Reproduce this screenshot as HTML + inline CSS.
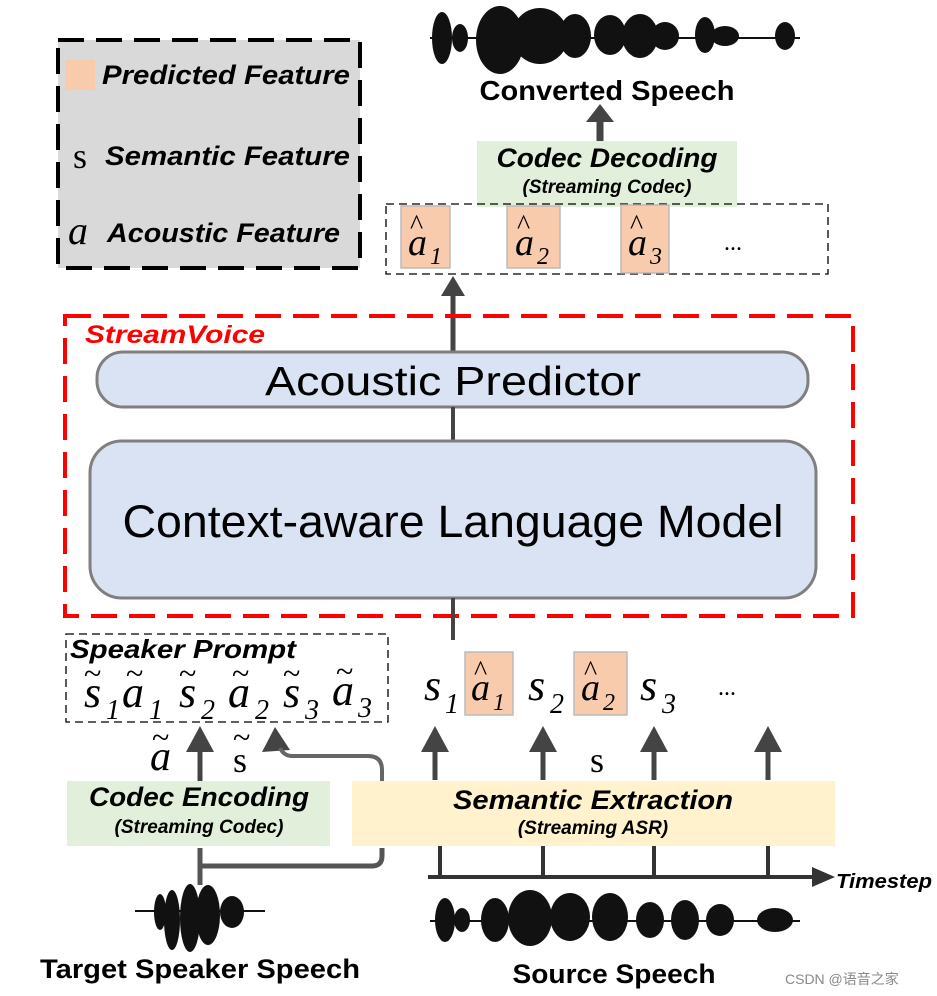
<!DOCTYPE html>
<html><head><meta charset="utf-8"><style>
body{margin:0;background:#fff}
svg{display:block}
.b{font-family:"Liberation Sans",sans-serif;font-weight:bold}
.bi{font-family:"Liberation Sans",sans-serif;font-weight:bold;font-style:italic}
.m{font-family:"Liberation Serif",serif;font-style:italic}
</style></head><body>
<svg width="937" height="996" viewBox="0 0 937 996" xmlns="http://www.w3.org/2000/svg">
<!-- legend -->
<rect x="58" y="40" width="302" height="228" fill="#d9d9d9" stroke="#000" stroke-width="4" stroke-dasharray="26,12"/>
<rect x="65" y="60" width="30" height="30" fill="#f8cbad"/>
<text x="102" y="84" class="bi" font-size="27" textLength="248" lengthAdjust="spacingAndGlyphs">Predicted Feature</text>
<text x="73" y="168" font-family="Liberation Serif,serif" font-size="36">s</text>
<text x="105" y="165" class="bi" font-size="27" textLength="245" lengthAdjust="spacingAndGlyphs">Semantic Feature</text>
<text x="68" y="244" class="m" font-size="40">a</text>
<text x="107" y="242" class="bi" font-size="27" textLength="233" lengthAdjust="spacingAndGlyphs">Acoustic Feature</text>
<!-- top waveform -->
<g fill="#111">
<rect x="430" y="37" width="370" height="2"/>
<ellipse cx="442" cy="38" rx="10" ry="26"/><ellipse cx="460" cy="38" rx="8" ry="14"/>
<ellipse cx="500" cy="40" rx="24" ry="34"/><ellipse cx="540" cy="36" rx="28" ry="28"/><ellipse cx="575" cy="36" rx="16" ry="22"/>
<ellipse cx="610" cy="35" rx="16" ry="20"/><ellipse cx="640" cy="36" rx="18" ry="22"/><ellipse cx="665" cy="36" rx="14" ry="14"/>
<ellipse cx="705" cy="35" rx="10" ry="18"/><ellipse cx="725" cy="36" rx="14" ry="10"/><ellipse cx="785" cy="36" rx="10" ry="14"/>
</g>
<text x="607" y="100" class="b" font-size="28" text-anchor="middle" textLength="255" lengthAdjust="spacingAndGlyphs">Converted Speech</text>
<line x1="600" y1="142" x2="600" y2="118" stroke="#444" stroke-width="7"/>
<path d="M586,122 L600,104 L614,122 z" fill="#444"/>
<rect x="477" y="141" width="260" height="66" fill="#e2efda"/>
<text x="607" y="167" class="bi" font-size="27" text-anchor="middle" textLength="221" lengthAdjust="spacingAndGlyphs">Codec Decoding</text>
<text x="607" y="193" class="bi" font-size="19" text-anchor="middle">(Streaming Codec)</text>
<rect x="386" y="204" width="442" height="70" fill="none" stroke="#000" stroke-width="1.3" stroke-dasharray="8,5"/>
<g fill="#f8cbad" stroke="#bbb" stroke-width="1.5">
<rect x="401" y="206" width="49" height="62"/><rect x="507" y="206" width="53" height="62"/><rect x="621" y="205" width="48" height="68"/></g>
<g class="m" font-size="38">
<text x="408" y="255">a</text><text x="430" y="264" font-size="24">1</text><text x="410" y="234" font-size="28" font-style="normal">^</text>
<text x="515" y="255">a</text><text x="537" y="264" font-size="24">2</text><text x="517" y="234" font-size="28" font-style="normal">^</text>
<text x="628" y="255">a</text><text x="650" y="264" font-size="24">3</text><text x="630" y="234" font-size="28" font-style="normal">^</text>
<text x="724" y="250" font-size="24" font-style="normal">...</text>
</g>
<line x1="453" y1="352" x2="453" y2="292" stroke="#444" stroke-width="5"/>
<path d="M441,296 L453,276 L465,296 z" fill="#444"/>
<!-- StreamVoice -->
<rect x="65" y="316" width="788" height="300" fill="none" stroke="#f00" stroke-width="4" stroke-dasharray="26,12"/>
<text x="85" y="343" class="bi" font-size="25" fill="#f00" textLength="180" lengthAdjust="spacingAndGlyphs">StreamVoice</text>
<rect x="97" y="352" width="711" height="55" rx="26" fill="#dae3f3" stroke="#7f7f7f" stroke-width="3"/>
<text x="453" y="395" font-family="Liberation Sans,sans-serif" font-size="41" text-anchor="middle" textLength="376" lengthAdjust="spacingAndGlyphs">Acoustic Predictor</text>
<line x1="453" y1="407" x2="453" y2="442" stroke="#444" stroke-width="4"/>
<rect x="90" y="441" width="726" height="157" rx="32" fill="#dae3f3" stroke="#7f7f7f" stroke-width="3"/>
<text x="453" y="537" font-family="Liberation Sans,sans-serif" font-size="45" text-anchor="middle" textLength="661" lengthAdjust="spacingAndGlyphs">Context-aware Language Model</text>
<line x1="453" y1="598" x2="453" y2="640" stroke="#444" stroke-width="4"/>
<!-- speaker prompt -->
<rect x="66" y="634" width="322" height="88" fill="none" stroke="#000" stroke-width="1.3" stroke-dasharray="8,5"/>
<text x="70" y="658" class="bi" font-size="26" textLength="226" lengthAdjust="spacingAndGlyphs">Speaker Prompt</text>
<g class="m" font-size="44">
<text x="84" y="707">s</text><text x="106" y="719" font-size="28">1</text><text x="84" y="684" font-size="32" font-style="normal">~</text>
<text x="122" y="707">a</text><text x="149" y="719" font-size="28">1</text><text x="126" y="684" font-size="32" font-style="normal">~</text>
<text x="179" y="707">s</text><text x="201" y="719" font-size="28">2</text><text x="179" y="684" font-size="32" font-style="normal">~</text>
<text x="228" y="707">a</text><text x="255" y="719" font-size="28">2</text><text x="232" y="684" font-size="32" font-style="normal">~</text>
<text x="283" y="707">s</text><text x="305" y="719" font-size="28">3</text><text x="283" y="684" font-size="32" font-style="normal">~</text>
<text x="332" y="705">a</text><text x="358" y="717" font-size="28">3</text><text x="336" y="682" font-size="32" font-style="normal">~</text>
</g>
<!-- right sequence -->
<rect x="465" y="652" width="48" height="63" fill="#f8cbad" stroke="#bbb" stroke-width="1.5"/>
<rect x="574" y="652" width="53" height="63" fill="#f8cbad" stroke="#bbb" stroke-width="1.5"/>
<g class="m" font-size="44">
<text x="424" y="700">s</text><text x="445" y="713" font-size="28">1</text>
<text x="471" y="700" font-size="38">a</text><text x="493" y="710" font-size="24">1</text><text x="474" y="680" font-size="28" font-style="normal">^</text>
<text x="528" y="700">s</text><text x="550" y="713" font-size="28">2</text>
<text x="581" y="700" font-size="38">a</text><text x="603" y="710" font-size="24">2</text><text x="584" y="680" font-size="28" font-style="normal">^</text>
<text x="640" y="700">s</text><text x="662" y="713" font-size="28">3</text>
<text x="718" y="695" font-size="24" font-style="normal">...</text>
</g>
<g stroke="#444" stroke-width="5">
<line x1="435" y1="780" x2="435" y2="745"/><line x1="543" y1="780" x2="543" y2="745"/><line x1="654" y1="780" x2="654" y2="745"/><line x1="768" y1="780" x2="768" y2="745"/>
<line x1="200" y1="790" x2="200" y2="745"/></g>
<g fill="#444">
<path d="M421,752 L435,726 L449,752 z"/><path d="M529,752 L543,726 L557,752 z"/><path d="M640,752 L654,726 L668,752 z"/><path d="M754,752 L768,726 L782,752 z"/><path d="M186,752 L200,726 L214,752 z"/>
<path d="M262,752 L275,727 L290,750 z"/></g>
<text x="590" y="772" font-family="Liberation Serif,serif" font-size="36">s</text>
<text x="150" y="770" class="m" font-size="42">a</text><text x="152" y="748" font-family="Liberation Serif,serif" font-size="32">~</text>
<text x="233" y="772" font-family="Liberation Serif,serif" font-size="36">s</text><text x="233" y="748" font-family="Liberation Serif,serif" font-size="32">~</text>
<path d="M382,790 L382,770 Q382,756 368,756 L292,756 Q284,756 280,748" fill="none" stroke="#666" stroke-width="4"/>
<rect x="67" y="781" width="263" height="65" fill="#e2efda"/>
<text x="199" y="806" class="bi" font-size="27" text-anchor="middle" textLength="220" lengthAdjust="spacingAndGlyphs">Codec Encoding</text>
<text x="199" y="833" class="bi" font-size="19" text-anchor="middle">(Streaming Codec)</text>
<rect x="352" y="781" width="483" height="65" fill="#fff2cc"/>
<text x="593" y="809" class="bi" font-size="27" text-anchor="middle" textLength="280" lengthAdjust="spacingAndGlyphs">Semantic Extraction</text>
<text x="593" y="834" class="bi" font-size="19" text-anchor="middle">(Streaming ASR)</text>
<path d="M200,848 L200,885 M200,866 L372,866 Q382,866 382,856 L382,848" fill="none" stroke="#555" stroke-width="5"/>
<!-- timeline -->
<g stroke="#333" stroke-width="4"><line x1="428" y1="877" x2="818" y2="877"/>
<line x1="440" y1="846" x2="440" y2="877"/><line x1="543" y1="846" x2="543" y2="877"/><line x1="654" y1="846" x2="654" y2="877"/><line x1="768" y1="846" x2="768" y2="877"/></g>
<path d="M812,867 L835,877 L812,887 z" fill="#333"/>
<text x="836" y="888" class="bi" font-size="20" textLength="96" lengthAdjust="spacingAndGlyphs">Timestep</text>
<!-- bottom waveforms -->
<g fill="#111">
<rect x="135" y="910" width="130" height="2"/>
<ellipse cx="160" cy="912" rx="6" ry="18"/><ellipse cx="172" cy="920" rx="8" ry="30"/><ellipse cx="190" cy="918" rx="10" ry="34"/><ellipse cx="208" cy="915" rx="12" ry="30"/><ellipse cx="232" cy="912" rx="12" ry="16"/>
<rect x="430" y="920" width="370" height="2"/>
<ellipse cx="445" cy="920" rx="10" ry="22"/><ellipse cx="462" cy="920" rx="8" ry="12"/><ellipse cx="495" cy="920" rx="14" ry="22"/><ellipse cx="530" cy="918" rx="22" ry="28"/><ellipse cx="570" cy="917" rx="20" ry="24"/><ellipse cx="610" cy="917" rx="18" ry="24"/><ellipse cx="650" cy="920" rx="14" ry="18"/><ellipse cx="685" cy="920" rx="14" ry="20"/><ellipse cx="720" cy="920" rx="14" ry="16"/><ellipse cx="775" cy="920" rx="18" ry="12"/>
</g>
<text x="200" y="978" class="b" font-size="27" text-anchor="middle" textLength="320" lengthAdjust="spacingAndGlyphs">Target Speaker Speech</text>
<text x="614" y="983" class="b" font-size="27" text-anchor="middle" textLength="203" lengthAdjust="spacingAndGlyphs">Source Speech</text>
<text x="785" y="984" font-family="Liberation Sans,'Noto Sans CJK SC',sans-serif" font-size="14" fill="#888">CSDN @语音之家</text>
</svg>
</body></html>
